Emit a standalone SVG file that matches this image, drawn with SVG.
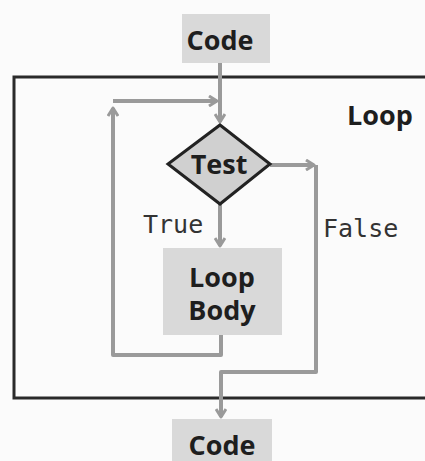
<svg xmlns="http://www.w3.org/2000/svg" width="425" height="461" viewBox="0 0 425 461">
  <style>
    .box { fill: #d9d9d9; }
    .label { font-family: "Open Sans", Lato, sans-serif; font-weight: bold; font-size: 27px; fill: #1e1e1e; text-anchor: middle; }
    .mono { font-family: "DejaVu Sans Mono", "Liberation Mono", monospace; font-size: 25px; fill: #333; }
    .wire { fill: none; stroke: #9a9a9a; stroke-width: 4; stroke-linejoin: round; }
    .frame { fill: none; stroke: #2a2a2a; stroke-width: 3; }
  </style>
  <defs>
    <marker id="head" viewBox="0 0 12 12" refX="10" refY="6" markerWidth="12" markerHeight="12" markerUnits="userSpaceOnUse" orient="auto">
      <path d="M2,1 L10,6 L2,11" fill="none" stroke="#9a9a9a" stroke-width="3" stroke-linejoin="round"/>
    </marker>
  </defs>
  <rect width="425" height="461" fill="#fbfbfb"/>

  <!-- loop frame (runs off the right edge) -->
  <g id="loop">
    <rect class="frame" x="14" y="77" width="430" height="321"/>
    <text class="label" x="380" y="125">Loop</text>
  </g>

  <g id="connectors">
    <!-- entry into the test -->
    <path class="wire" d="M220,63 V122" marker-end="url(#head)"/>
    <!-- back edge from the body -->
    <path class="wire" d="M221,335 V355 H113 V108" marker-end="url(#head)"/>
    <path class="wire" d="M113,101 H217" marker-end="url(#head)"/>
    <!-- true branch -->
    <path class="wire" d="M220,204 V246" marker-end="url(#head)"/>
    <!-- false branch -->
    <path class="wire" d="M270,165 H314" marker-end="url(#head)"/>
    <path class="wire" d="M316,165 V372 H221 V417" marker-end="url(#head)"/>
  </g>

  <g id="code-top">
    <rect class="box" x="182" y="14" width="88" height="49"/>
    <text class="label" x="220" y="50">Code</text>
  </g>

  <g id="test">
    <polygon points="220,125 270,164 220,204 168,164" fill="#d0d0d0" stroke="#222" stroke-width="3" stroke-linejoin="miter"/>
    <text class="label" x="219" y="174">Test</text>
  </g>

  <g id="true-label">
    <text class="mono" x="143" y="233">True</text>
  </g>
  <g id="false-label">
    <text class="mono" x="323" y="237">False</text>
  </g>

  <g id="loop-body">
    <rect class="box" x="163" y="248" width="119" height="87"/>
    <text class="label" x="222" y="287">Loop</text>
    <text class="label" x="222" y="320">Body</text>
  </g>

  <g id="code-bottom">
    <rect class="box" x="172" y="419" width="100" height="50"/>
    <text class="label" x="222" y="455">Code</text>
  </g>
</svg>
